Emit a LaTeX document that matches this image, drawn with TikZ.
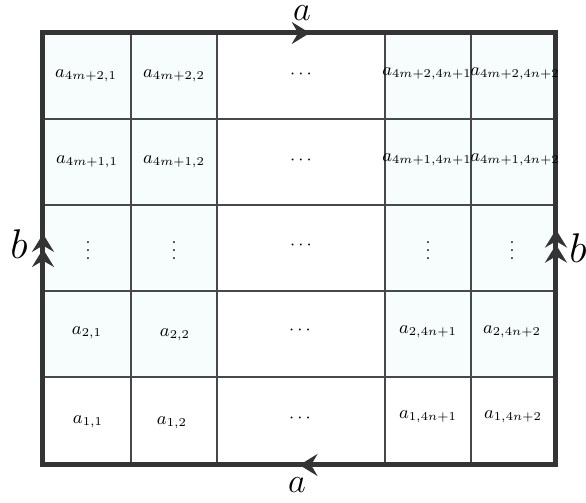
\documentclass[tikz,border=0pt]{standalone}
\usetikzlibrary{arrows.meta,decorations.markings}
\definecolor{cellfill}{RGB}{247,252,253}
\definecolor{gridline}{RGB}{72,72,72}
\definecolor{borderline}{RGB}{52,52,52}
\begin{document}
\begin{tikzpicture}[x=0.5pt,y=-0.5pt,
  gridstyle/.style={draw=gridline,line width=0.8pt},
  border/.style={draw=borderline,line width=2.5pt,line cap=rect},
  lbl/.style={inner sep=0pt,font=\fontsize{8.7}{10}\selectfont},
  edgelbl/.style={inner sep=0pt,font=\LARGE},
  sidelbl/.style={inner sep=0pt,font=\huge},
  chev/.style={arrows={-{Stealth[length=9pt,width=11pt,inset=3.2pt]}}},
  onearrow/.style={postaction={decorate},decoration={markings,
     mark=at position #1 with {\arrow[borderline]{Stealth[length=9pt,width=11pt,inset=3.2pt]}}}},
  twoarrows/.style 2 args={postaction={decorate},decoration={markings,
     mark=at position #1 with {\arrow[borderline]{Stealth[length=9pt,width=11pt,inset=3.2pt]}},
     mark=at position #2 with {\arrow[borderline]{Stealth[length=9pt,width=11pt,inset=3.2pt]}}}}
]
\useasboundingbox (0,0) rectangle (586,503);
% fills
\fill[cellfill] (43,33) rectangle (217,377);
\fill[cellfill] (385,33) rectangle (556,377);
% grid lines
\foreach \x in {131,217,385,471} \draw[gridstyle] (\x,33) -- (\x,465);
\foreach \y in {119,205,291,377} \draw[gridstyle] (43,\y) -- (556,\y);
% corners
\coordinate (tl) at (43,33);
\coordinate (tr) at (556,33);
\coordinate (br) at (556,465);
\coordinate (bl) at (43,465);
% border with arrows
\draw[border,onearrow=0.52] (tl) -- (tr);
\draw[border,onearrow=0.50] (br) -- (bl);
\draw[border,twoarrows={0.50}{0.535}] (bl) -- (tl);
\draw[border,twoarrows={0.51}{0.545}] (br) -- (tr);
% cell labels
\node[lbl] (r5c1) at (86,76) {$a_{4m+2,1}$};
\node[lbl] (r5c2) at (174,76) {$a_{4m+2,2}$};
\node[lbl] (r5c3) at (301,74) {$\cdots$};
\node[lbl] (r5c4) at (427,74) {$a_{4m+2,4n+1}$};
\node[lbl] (r5c5) at (515,74) {$a_{4m+2,4n+2}$};
\node[lbl] (r4c1) at (87,162) {$a_{4m+1,1}$};
\node[lbl] (r4c2) at (174,162) {$a_{4m+1,2}$};
\node[lbl] (r4c3) at (301,160) {$\cdots$};
\node[lbl] (r4c4) at (427,160) {$a_{4m+1,4n+1}$};
\node[lbl] (r4c5) at (515,160) {$a_{4m+1,4n+2}$};
\node[lbl] (r3c1) at (88,245) {$\vdots$};
\node[lbl] (r3c2) at (174,245) {$\vdots$};
\node[lbl] (r3c3) at (301,245) {$\cdots$};
\node[lbl] (r3c4) at (428,245) {$\vdots$};
\node[lbl] (r3c5) at (512,245) {$\vdots$};
\node[lbl] (r2c1) at (87,333) {$a_{2,1}$};
\node[lbl] (r2c2) at (175,335) {$a_{2,2}$};
\node[lbl] (r2c3) at (300,330) {$\cdots$};
\node[lbl] (r2c4) at (428,332) {$a_{2,4n+1}$};
\node[lbl] (r2c5) at (512,332) {$a_{2,4n+2}$};
\node[lbl] (r1c1) at (88,422) {$a_{1,1}$};
\node[lbl] (r1c2) at (172,423) {$a_{1,2}$};
\node[lbl] (r1c3) at (300,418) {$\cdots$};
\node[lbl] (r1c4) at (428,417) {$a_{1,4n+1}$};
\node[lbl] (r1c5) at (513,417) {$a_{1,4n+2}$};
% edge labels
\node[edgelbl] (atop) at (302,13) {$a$};
\node[edgelbl] (abot) at (297,485) {$a$};
\node[sidelbl] (bleft) at (19,244) {$b$};
\node[sidelbl] (bright) at (578,248) {$b$};
\end{tikzpicture}
\end{document}
